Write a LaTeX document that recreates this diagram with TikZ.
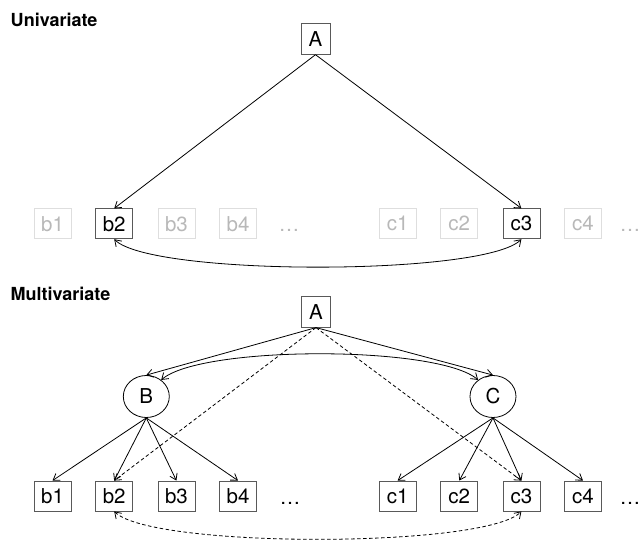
\documentclass[tikz,border=0pt]{standalone}
\usepackage{fontspec}
\setmainfont{TeX Gyre Heros}
\usetikzlibrary{arrows.meta,shapes.geometric}
\begin{document}
\begin{tikzpicture}[x=1pt,y=-1pt,
  tip/.tip={Straight Barb[length=6pt,width=8pt]},
  arr/.style={-tip, line width=0.8pt},
  dbl/.style={tip-tip, line width=0.8pt},
  dsh/.style={dash pattern=on 3.5pt off 2.5pt},
  lbl/.style={font=\fontsize{20.5}{23}\selectfont},
  box/.style={lbl, draw=black!65, line width=0.8pt, minimum width=37pt, minimum height=30pt, inner sep=0pt},
  faded/.style={box, draw=black!13, text=black!28},
  abox/.style={box, minimum width=29pt, minimum height=31pt},
  lat/.style={lbl, draw, ellipse, line width=0.8pt, minimum width=46pt, minimum height=42pt, inner sep=0pt},
  dotsnode/.style={lbl, anchor=base, inner sep=0pt},
  title/.style={anchor=base west, inner sep=0pt, font=\fontsize{18}{21}\selectfont\bfseries}
]
\useasboundingbox (0,0) rectangle (641,540);

% ---------- Univariate ----------
\node[title] (t1) at (10.5,26.5) {Univariate};
\node[abox] (A1) at (315.5,38.8) {A};
\node[faded] (ub1) at (52.5,223.8) {b1};
\node[box]   (ub2) at (114.2,223.8) {b2};
\node[faded] (ub3) at (176.4,223.8) {b3};
\node[faded] (ub4) at (238,223.8) {b4};
\node[dotsnode, text=black!28] (ud1) at (289,231.8) {…};
\node[faded] (uc1) at (397.6,223.8) {c1};
\node[faded] (uc2) at (459.3,223.8) {c2};
\node[box]   (uc3) at (521.4,223.8) {c3};
\node[faded] (uc4) at (583,223.8) {c4};
\node[dotsnode, text=black!28] (ud2) at (630,231.8) {…};

\draw[arr] (A1.south) -- (ub2.north);
\draw[arr] (A1.south) -- (uc3.north);
\draw[dbl] (ub2.south) .. controls +(37,37) and +(-37,37) .. (uc3.south);

% ---------- Multivariate ----------
\node[title] (t2) at (10.5,300.5) {Multivariate};
\node[abox] (A2) at (316,311.7) {A};
\node[lat] (B) at (146.3,396.5) {B};
\node[lat] (C) at (493,396.5) {C};
\node[box] (mb1) at (52.5,496) {b1};
\node[box] (mb2) at (114.2,496) {b2};
\node[box] (mb3) at (176.4,496) {b3};
\node[box] (mb4) at (238,496) {b4};
\node[dotsnode] (md1) at (290,504) {…};
\node[box] (mc1) at (397.6,496) {c1};
\node[box] (mc2) at (459.3,496) {c2};
\node[box] (mc3) at (521.4,496) {c3};
\node[box] (mc4) at (583,496) {c4};
\node[dotsnode] (md2) at (630,504) {…};

\draw[arr] (A2.south) -- (B.north);
\draw[arr] (A2.south) -- (C.north);
\draw[dbl] (B.48) .. controls +(40,-34.7) and +(-40,-34.7) .. (C.132);
\draw[arr,dsh] (A2.south) -- (mb2.north);
\draw[arr,dsh] (A2.south) -- (mc3.north);
\foreach \n in {mb1,mb2,mb3,mb4} \draw[arr] (B.south) -- (\n.north);
\foreach \n in {mc1,mc2,mc3,mc4} \draw[arr] (C.south) -- (\n.north);
\draw[dbl,dsh] (mb2.south) .. controls +(37,37) and +(-37,37) .. (mc3.south);
\end{tikzpicture}
\end{document}
